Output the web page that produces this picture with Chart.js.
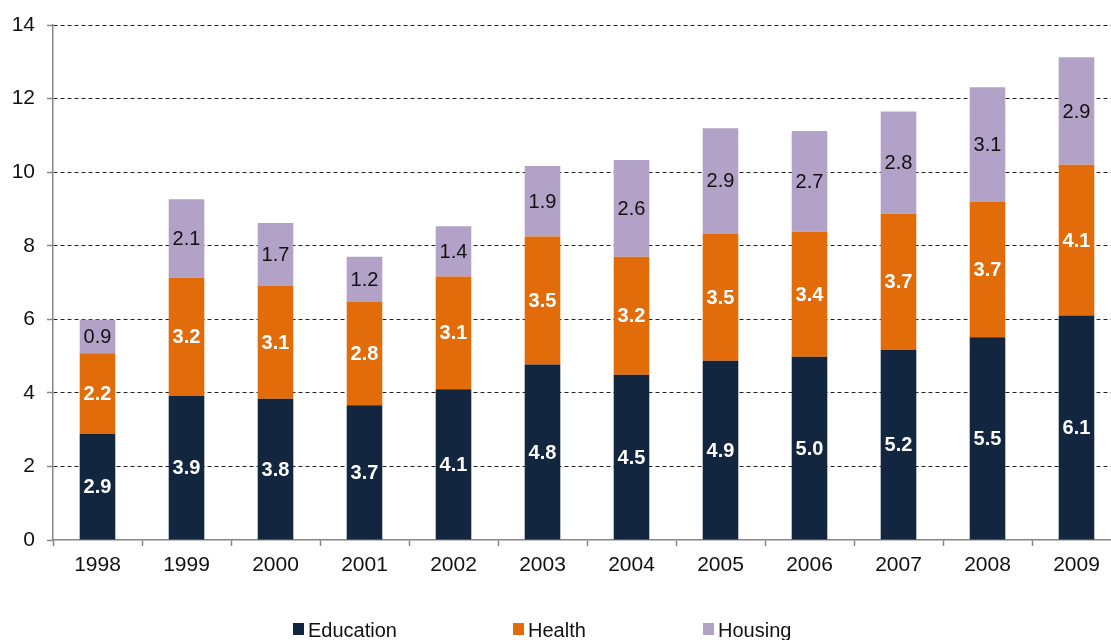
<!DOCTYPE html>
<html>
<head>
<meta charset="utf-8">
<script src="https://cdn.jsdelivr.net/npm/chart.js@4"></script>
<style>
  html, body { margin: 0; padding: 0; background: #fff; overflow: hidden; }
  #wrap { width: 1122px; height: 640px; }
</style>
</head>
<body>
<div id="wrap"><canvas id="spendChart"></canvas></div>
<script>
const years = ['1998', '1999', '2000', '2001', '2002', '2003', '2004', '2005', '2006', '2007', '2008', '2009'];
// segment heights (labels show them rounded to one decimal)
const education = [2.89, 3.92, 3.84, 3.66, 4.10, 4.77, 4.49, 4.87, 4.98, 5.17, 5.51, 6.10];
const health = [2.19, 3.21, 3.08, 2.81, 3.06, 3.48, 3.21, 3.46, 3.40, 3.70, 3.69, 4.10];
const housing = [0.91, 2.13, 1.70, 1.23, 1.37, 1.92, 2.63, 2.86, 2.74, 2.78, 3.11, 2.92];
const yTicks = [0, 2, 4, 6, 8, 10, 12, 14];

const FONT = '"Liberation Sans", Arial, sans-serif';

// labels in the middle of each segment
const barLabels = {
    id: 'barLabels',
    afterDatasetsDraw(chart) {
        const ctx = chart.ctx;
        ctx.save();
        ctx.textAlign = 'center';
        ctx.textBaseline = 'middle';
        chart.data.datasets.forEach(function(ds, i) {
            const meta = chart.getDatasetMeta(i);
            ctx.font = (ds.labelBold ? 'bold ' : '') + '20px ' + FONT;
            ctx.fillStyle = ds.labelColor;
            meta.data.forEach(function(bar, j) {
                const p = bar.getCenterPoint();
                ctx.fillText(ds.data[j].toFixed(1), p.x, p.y + 1);
            });
        });
        ctx.restore();
    }
};

// legend at the bottom, spaced like the original
const bottomLegend = {
    id: 'bottomLegend',
    afterDraw(chart) {
        const ctx = chart.ctx;
        const starts = [293, 513, 703];
        ctx.save();
        ctx.font = '20px ' + FONT;
        ctx.textBaseline = 'alphabetic';
        ctx.textAlign = 'left';
        chart.data.datasets.forEach(function(ds, i) {
            const x = starts[i];
            ctx.fillStyle = ds.backgroundColor;
            ctx.fillRect(x, 623, 11, 12);
            ctx.fillStyle = '#111';
            ctx.fillText(ds.label, x + 15, 637);
        });
        ctx.restore();
    }
};

const ctx = document.getElementById('spendChart').getContext('2d');
const spendChart = new Chart(ctx, {
    type: 'bar',
    data: {
        labels: years,
        datasets: [
            { label: 'Education', data: education, backgroundColor: '#12263f', labelColor: '#fff', labelBold: true },
            { label: 'Health', data: health, backgroundColor: '#e36c0a', labelColor: '#fff', labelBold: true },
            { label: 'Housing', data: housing, backgroundColor: '#b3a2c7', labelColor: '#111', labelBold: false }
        ]
    },
    options: {
        responsive: true,
        maintainAspectRatio: false,
        animation: false,
        barPercentage: 0.4,
        categoryPercentage: 1.0,
        layout: { padding: { top: 25, right: 1, left: 0, bottom: 0 } },
        plugins: {
            legend: { display: false },
            tooltip: { enabled: false }
        },
        scales: {
            x: {
                stacked: true,
                grid: {
                    drawOnChartArea: false,
                    tickLength: 6,
                    tickColor: '#868686',
                    tickWidth: 1.5
                },
                border: { color: '#868686', width: 1.5 },
                ticks: {
                    color: '#111',
                    padding: 7,
                    font: { family: FONT, size: 21 },
                    maxRotation: 0
                },
                afterFit: function(scale) { scale.height = 100; }
            },
            y: {
                stacked: true,
                min: 0,
                max: 14,
                afterBuildTicks: function(scale) {
                    scale.ticks = yTicks.map(function(v) { return { value: v }; });
                },
                grid: {
                    color: function(c) { return c.tick && c.tick.value === 0 ? 'rgba(0,0,0,0)' : '#222'; },
                    lineWidth: 1,
                    tickLength: 6,
                    tickColor: '#868686',
                    tickWidth: 1.5,
                    tickBorderDash: []
                },
                border: { color: '#868686', width: 1.5, dash: [4, 3] },
                ticks: {
                    color: '#111',
                    padding: 12,
                    font: { family: FONT, size: 21 }
                },
                afterFit: function(scale) { scale.width = 53; }
            }
        }
    },
    plugins: [barLabels, bottomLegend]
});
</script>
</body>
</html>
